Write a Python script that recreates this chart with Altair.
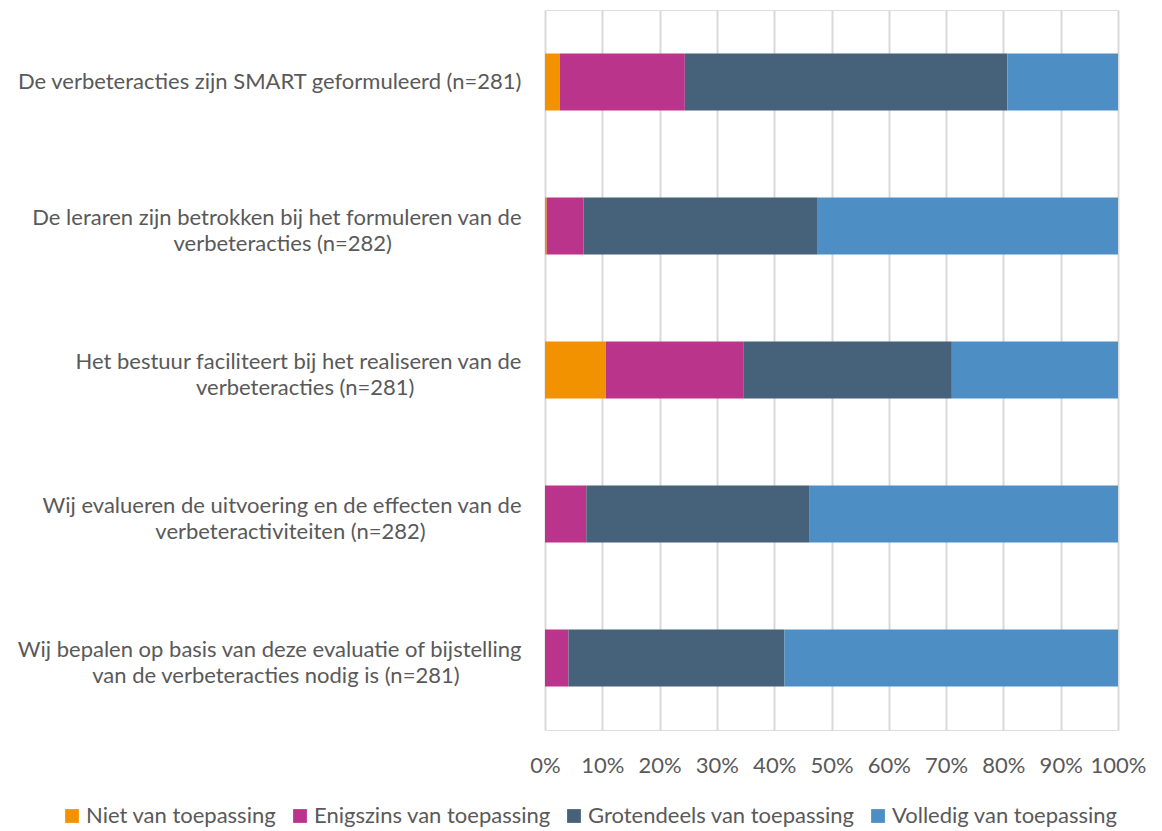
import altair as alt
import pandas as pd

questions = [
    "De verbeteracties zijn SMART geformuleerd (n=281)",
    "De leraren zijn betrokken bij het formuleren van de|verbeteracties (n=282)",
    "Het bestuur faciliteert bij het realiseren van de|verbeteracties (n=281)",
    "Wij evalueren de uitvoering en de effecten van de|verbeteractiviteiten (n=282)",
    "Wij bepalen op basis van deze evaluatie of bijstelling|van de verbeteracties nodig is (n=281)",
]
categories = [
    "Niet van toepassing",
    "Enigszins van toepassing",
    "Grotendeels van toepassing",
    "Volledig van toepassing",
]
niet = [2.6, 0.3, 10.6, 0.0, 0.0]
enigszins = [21.8, 6.4, 24.1, 7.2, 4.1]
grotendeels = [56.3, 40.9, 36.3, 39.0, 37.7]
volledig = [19.3, 52.4, 29.0, 53.8, 58.2]
tick_values = list(range(0, 101, 10))

colors = ["#F39200", "#B9348A", "#46617A", "#4D8FC5"]
FONT = "Lato"
FS = 22
TEXT = "#595959"


def approx_em_width(s):
    # rough Lato advance widths (em) used only to centre the second label line
    w = 0.0
    for ch in s:
        if ch in "ijl":
            w += 0.23
        elif ch in "ft()":
            w += 0.32
        elif ch == "r":
            w += 0.36
        elif ch == " ":
            w += 0.25
        elif ch in "mw":
            w += 0.82
        elif ch in "0123456789=":
            w += 0.58
        elif ch.isupper():
            w += 0.66
        else:
            w += 0.52
    return w


def center_second_line(q):
    # pad the second line with non-breaking spaces (kept by a trailing
    # zero-width space) so it sits centred under the right-aligned first line
    parts = q.split("|")
    if len(parts) == 1:
        return q
    a, b = parts
    n = round((approx_em_width(a) - approx_em_width(b)) / 2 / 0.253)
    return a + "|" + b + "\u00a0" * max(0, n) + "\u200b"


labels = [center_second_line(q) for q in questions]
series = [niet, enigszins, grotendeels, volledig]
rows = []
for qi, lab in enumerate(labels):
    for ci, cat in enumerate(categories):
        rows.append({"question": lab, "category": cat, "idx": ci, "value": series[ci][qi]})
df = pd.DataFrame(rows)

chart = (
    alt.Chart(df)
    .mark_bar(size=57)
    .encode(
        x=alt.X(
            "value:Q",
            stack="zero",
            scale=alt.Scale(domain=[0, 100], nice=False),
            axis=alt.Axis(
                values=tick_values,
                labelExpr="datum.value + '%'",
                labelOverlap=False,
                labelFlush=False,
                grid=True,
                gridColor="#D9D9D9",
                gridWidth=2,
                domain=False,
                ticks=False,
                labelFont=FONT,
                labelFontSize=FS,
                labelColor=TEXT,
                labelPadding=25,
                title=None,
            ),
        ),
        y=alt.Y(
            "question:N",
            sort=labels,
            axis=alt.Axis(
                title=None,
                domain=False,
                ticks=False,
                grid=False,
                labelExpr="split(datum.label, '|')",
                labelAlign="right",
                labelPadding=24,
                labelLimit=800,
                labelLineHeight=26,
                labelOffset={"expr": "indexof(datum.value, '|') >= 0 ? -8 : 0"},
                labelFont=FONT,
                labelFontSize=FS,
                labelColor=TEXT,
            ),
        ),
        color=alt.Color(
            "category:N",
            sort=categories,
            scale=alt.Scale(domain=categories, range=colors),
            legend=alt.Legend(
                title=None,
                orient="none",
                direction="horizontal",
                legendX=-484,
                legendY=795,
                symbolType="square",
                symbolSize=190,
                symbolStrokeWidth=0,
                labelFont=FONT,
                labelFontSize=FS,
                labelColor=TEXT,
                labelLimit=600,
                columnPadding=12,
                labelOffset=3,
            ),
        ),
        order=alt.Order("idx:Q"),
    )
    .properties(
        width=573,
        height=720,
        autosize=alt.AutoSizeParams(type="none"),
        padding={"left": 537, "top": 2, "right": 36, "bottom": 100},
    )
    .configure_view(stroke=None)
    .configure(background="white")
)

chart.save("out.html", embed_options={"renderer": "svg", "actions": False})
